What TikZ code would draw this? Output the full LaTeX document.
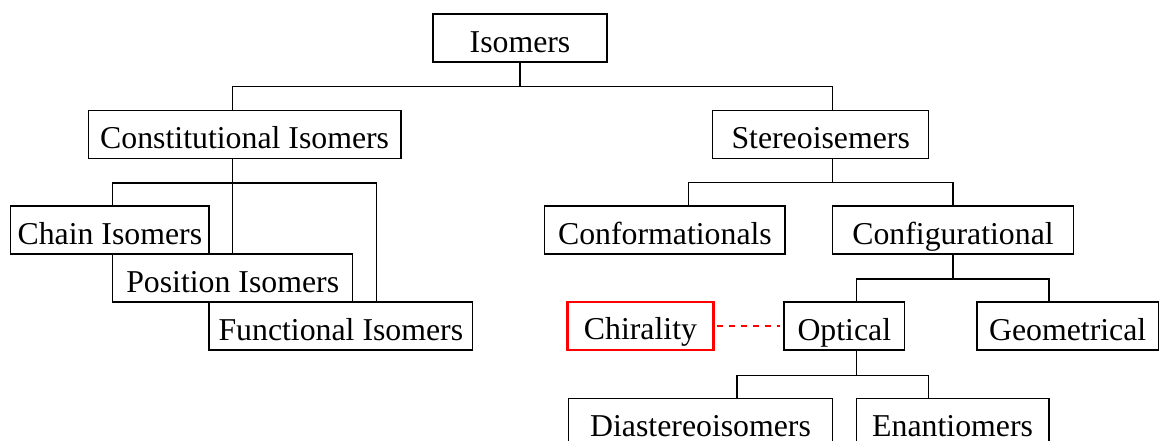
\documentclass[tikz,border=0pt]{standalone}
\usepackage{fontspec}
\setmainfont{Liberation Serif}
\begin{document}
\begin{tikzpicture}[x=1pt,y=-1pt,
  box/.style={draw, line width=1.5pt, inner xsep=0pt, inner ysep=0pt,
    text height=38.5pt, text depth=9.5pt, align=center,
    font=\fontsize{31.8}{36}\selectfont},
  redbox/.style={box, draw=red, line width=2.8pt},
  conn/.style={line width=1.5pt},
  reddash/.style={draw=red, line width=1.8pt, dash pattern=on 6pt off 6pt}]
\useasboundingbox (0,0) rectangle (1160,441);
\clip (0,0) rectangle (1160,441);

% nodes
\node[box, minimum width=174pt]   (iso)   at (520,38)      {Isomers};
\node[box, minimum width=312.7pt] (con)   at (244.65,134.5) {Constitutional Isomers};
\node[box, minimum width=216pt]   (ste)   at (820.7,134.5) {Stereoisemers};
\node[box, minimum width=198.3pt] (chain) at (109.85,230)  {Chain Isomers};
\node[box, minimum width=240pt]   (pos)   at (232.7,278)   {Position Isomers};
\node[box, minimum width=263.7pt] (fun)   at (340.85,326)  {Functional Isomers};
\node[box, minimum width=240.5pt] (conf)  at (664.95,230)  {Conformationals};
\node[box, minimum width=240.8pt] (cfg)   at (953,230)     {Configurational};
\node[redbox, minimum width=145.5pt, text height=37.5pt, text depth=10.5pt] (chi) at (640.45,326) {Chirality};
\node[box, minimum width=120.6pt] (opt)   at (844.3,326)   {Optical};
\node[box, minimum width=181.7pt] (geo)   at (1067.65,326) {Geometrical};
\node[box, minimum width=264pt]   (dia)   at (700.55,422.3) {Diastereoisomers};
\node[box, minimum width=192.6pt] (ena)   at (952.6,422.3) {Enantiomers};

% connectors
\draw[conn] (iso.south) -- ++(0,24) coordinate (b1);
\draw[conn] (b1) -| ([xshift=-12.35pt]con.north);
\draw[conn] (b1) -| ([xshift=11.9pt]ste.north);

\draw[conn] ([xshift=-12.35pt]con.south) -- ++(0,24) coordinate (b2);
\draw[conn] (b2) -| ([xshift=2.85pt]chain.north);
\draw[conn] (b2) -| ([xshift=-0.4pt]pos.north);
\draw[conn] (b2) -| ([xshift=35.85pt]fun.north);

\draw[conn] ([xshift=11.9pt]ste.south) -- ++(0,23.2) coordinate (b3);
\draw[conn] (b3) -| ([xshift=23.75pt]conf.north);
\draw[conn] (b3) -| ([xshift=0.2pt]cfg.north);

\draw[conn] ([xshift=0.2pt]cfg.south) -- ++(0,24.3) coordinate (b4);
\draw[conn] (b4) -| ([xshift=12pt]opt.north);
\draw[conn] (b4) -| ([xshift=-18.75pt]geo.north);

\draw[conn] ([xshift=12pt]opt.south) -- ++(0,24.5) coordinate (b5);
\draw[conn] (b5) -| ([xshift=36.35pt]dia.north);
\draw[conn] (b5) -| ([xshift=-23.9pt]ena.north);

\draw[reddash] ([xshift=2pt]chi.east) -- ([xshift=-3pt]opt.west);
\end{tikzpicture}
\end{document}
